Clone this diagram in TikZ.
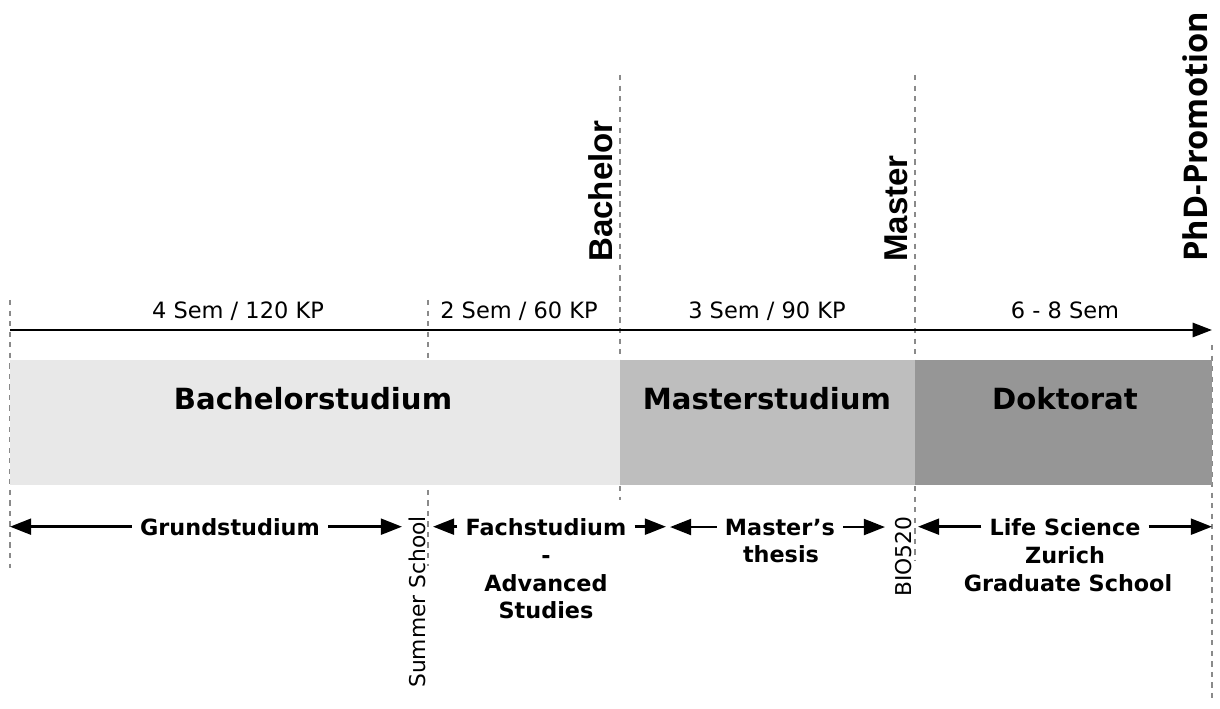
\documentclass[tikz,border=0pt]{standalone}
\usepackage{fontspec}
\setmainfont{DejaVu Sans}
\newfontfamily\degreefont{Liberation Sans}
\newfontfamily\promofont{Open Sans}
\usetikzlibrary{arrows.meta,positioning}

\definecolor{bachgray}{HTML}{E8E8E8}
\definecolor{mastgray}{HTML}{BEBEBE}
\definecolor{doktgray}{HTML}{969696}
\definecolor{guidegray}{HTML}{8A8A8A}

\tikzset{
  guide/.style={guidegray, line width=0.6pt, dash pattern=on 3pt off 3pt},
  semtext/.style={font=\fontsize{12.8}{15}\selectfont, anchor=base, inner sep=0pt},
  bartext/.style={font=\fontsize{16.6}{20}\selectfont\bfseries, anchor=base, inner sep=0pt},
  steptext/.style={font=\fontsize{12.7}{15}\selectfont\bfseries, anchor=base, inner xsep=4.5pt, inner ysep=0pt},
  sidetext/.style={font=\fontsize{12.4}{15}\selectfont, rotate=90, anchor=base west, inner sep=0pt},
  degree/.style={font=\fontsize{18.8}{22}\selectfont\degreefont\bfseries, rotate=90, anchor=base west, inner sep=0pt},
  span/.style={-{Triangle[length=12pt,width=9pt]}, line width=1.5pt},
}

\begin{document}
\begin{tikzpicture}[x=0.02cm,y=-0.02cm]
  \useasboundingbox (0,0) rectangle (1220,709);

  % guide lines
  \draw[guide] (10,300) -- (10,568);
  \draw[guide] (428,300) -- (428,566);
  \draw[guide] (620,75) -- (620,500);
  \draw[guide] (915,75) -- (915,560);
  \draw[guide] (1212,345) -- (1212,700);

  % phases
  \fill[bachgray] (10,360) rectangle (620,485);
  \fill[mastgray] (620,360) rectangle (915,485);
  \fill[doktgray] (915,360) rectangle (1212,485);

  \node[bartext] (bach) at (313,409) {Bachelorstudium};
  \node[bartext] (mast) at (767,409) {Masterstudium};
  \node[bartext] (dokt) at (1065,409) {Doktorat};

  % time axis
  \coordinate (start) at (10,330);
  \coordinate (end) at (1212,330);
  \draw[-{Triangle[length=11pt,width=8pt]}, line width=1.5pt] (start) -- (end);

  \node[semtext] (sem1) at (238,319) {4 Sem / 120 KP};
  \node[semtext] (sem2) at (519,319) {2 Sem / 60 KP};
  \node[semtext] (sem3) at (767,319) {3 Sem / 90 KP};
  \node[semtext] (sem4) at (1065,319) {6 - 8 Sem};

  % degrees
  \node[degree] (bachelor) at (612,262) {Bachelor};
  \node[degree] (master) at (907,262) {Master};
  \node[degree, font=\fontsize{18.6}{22}\selectfont\promofont\bfseries] (phd) at (1207,262) {PhD-Promotion};

  \node[sidetext] (summer) at (425,688) {Summer School};
  \node[sidetext] (bio) at (911,597) {BIO520};

  % steps
  \coordinate (grundL) at (10,0);
  \coordinate (grundR) at (402,0);
  \coordinate (fachL) at (433,0);
  \coordinate (fachR) at (666,0);
  \coordinate (thesisL) at (670,0);
  \coordinate (thesisR) at (885,0);
  \coordinate (lszL) at (918,0);
  \coordinate (lszR) at (1212,0);

  \node[steptext] (grund) at (230,535) {Grundstudium};
  \draw[span] (grund.west) -- (grund.west -| grundL);
  \draw[span] (grund.east) -- (grund.east -| grundR);

  \node[steptext] (fach) at (546,535) {Fachstudium};
  \node[steptext] (fachB) at (546,563) {-};
  \node[steptext] (fachC) at (546,591) {Advanced};
  \node[steptext] (fachD) at (546,618) {Studies};
  \draw[span] (fach.west) -- (fach.west -| fachL);
  \draw[span] (fach.east) -- (fach.east -| fachR);

  \node[steptext] (thesis) at (780,535) {Master's};
  \node[steptext] (thesisB) at (781,562) {thesis};
  \draw[span] (thesis.west) -- (thesis.west -| thesisL);
  \draw[span] (thesis.east) -- (thesis.east -| thesisR);

  \node[steptext] (lsz) at (1065,535) {Life Science};
  \node[steptext] (lszB) at (1065,563) {Zurich};
  \node[steptext] (lszC) at (1068,591) {Graduate School};
  \draw[span] (lsz.west) -- (lsz.west -| lszL);
  \draw[span] (lsz.east) -- (lsz.east -| lszR);
\end{tikzpicture}
\end{document}
